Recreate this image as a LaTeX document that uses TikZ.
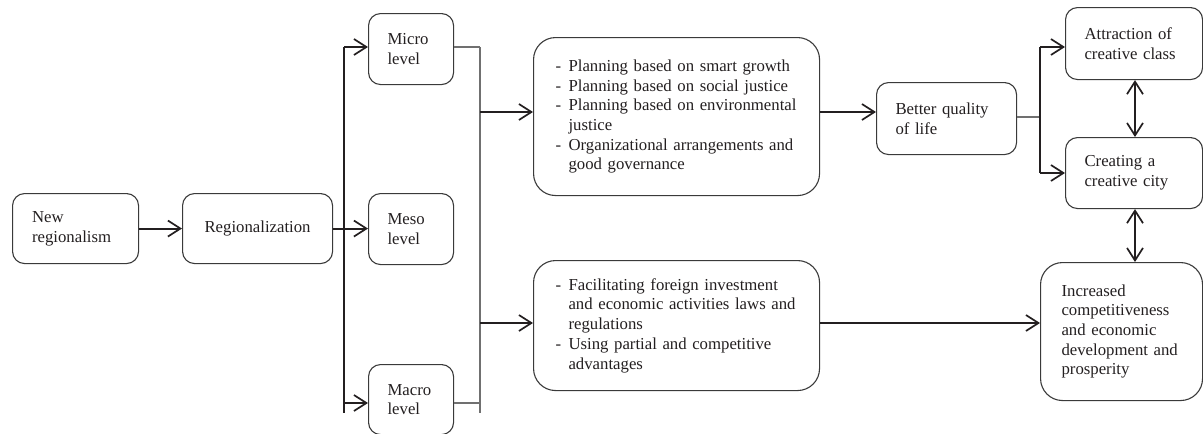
\documentclass[tikz,border=0pt]{standalone}
\usepackage{fontspec}
\setmainfont{Liberation Serif}
\usetikzlibrary{arrows.meta}
\definecolor{ink}{HTML}{231F20}
\definecolor{edge}{HTML}{3A3A3A}
\definecolor{bus}{HTML}{707070}
\newcommand{\dsh}{\makebox[13pt][l]{-}}
\newcommand{\ind}{\hspace*{13pt}}
\tikzset{
  box/.style={draw=edge, line width=1.1pt, rounded corners=12pt, anchor=north west,
    inner ysep=0pt, align=left, text=ink, font=\fontsize{16.75}{19.7}\selectfont},
  bigbox/.style={box, rounded corners=22pt},
  arr/.style={draw=ink, line width=2pt, -{Straight Barb[length=12.5pt,width=16pt,line width=1.7pt]}},
  darr/.style={draw=ink, line width=2pt, {Straight Barb[length=12.5pt,width=16pt,line width=1.7pt]}-{Straight Barb[length=12.5pt,width=16pt,line width=1.7pt]}},
  thk/.style={draw=ink, line width=2pt},
  thin/.style={draw=bus, line width=1.2pt},
}
\begin{document}
\begin{tikzpicture}[x=1pt,y=-1pt]
\useasboundingbox (0,0) rectangle (1203,434);
% boxes
\node[box, text width=87pt, inner xsep=19.5pt, minimum height=70pt] (nr) at (12,193) {New\\regionalism};
\node[box, text width=110pt, inner xsep=20pt, minimum height=70pt, align=center] (reg) at (182,193) {Regionalization};
\node[box, text width=47pt, inner xsep=19pt, minimum height=71pt] (micro) at (368,13) {Micro\\level};
\node[box, text width=47pt, inner xsep=19pt, minimum height=71pt] (meso) at (368,193) {Meso\\level};
\node[box, text width=47pt, inner xsep=19pt, minimum height=70pt] (macro) at (368,364) {Macro\\level};
\node[bigbox, text width=242pt, inner xsep=22pt, minimum height=158pt] (plan) at (533,37)
  {\dsh Planning based on smart growth\\
   \dsh Planning based on social justice\\
   \dsh Planning based on environmental\\
   \ind justice\\
   \dsh Organizational arrangements and\\
   \ind good governance};
\node[bigbox, text width=242pt, inner xsep=22pt, minimum height=130pt] (fac) at (533,260)
  {\dsh Facilitating foreign investment\\
   \ind and economic activities laws and\\
   \ind regulations\\
   \dsh Using partial and competitive\\
   \ind advantages};
\node[box, text width=102pt, inner xsep=19pt, minimum height=72pt] (better) at (876,82) {Better quality\\of life};
\node[box, text width=99pt, inner xsep=19pt, minimum height=72pt] (attr) at (1065,7) {Attraction of\\creative class};
\node[box, text width=99pt, inner xsep=19pt, minimum height=71pt] (city) at (1065,137) {Creating a\\creative city};
\node[bigbox, text width=120pt, inner xsep=21pt, minimum height=138pt] (inc) at (1040,262)
  {Increased\\competitiveness\\and economic\\development and\\prosperity};
% left bus
\coordinate (lbt) at (344,47);
\coordinate (lbb) at (344,413);
\coordinate (lbm) at (344,403);
\draw[thk] (lbt) -- (lbb);
\draw[arr] (nr.east) -- (reg.west |- nr.east);
\draw[arr] (reg.east) -- (meso.west |- reg.east);
\draw[arr] (lbt) -- (lbt -| micro.west);
\draw[arr] (lbm) -- (lbm -| macro.west);
% right bus
\coordinate (rbt) at (480,47);
\coordinate (rbb) at (480,413);
\coordinate (rb1) at (480,112);
\coordinate (rb2) at (480,323);
\coordinate (rbm) at (480,403);
\draw[thin] (rbt) -- (rbb);
\draw[thin] (micro.east |- rbt) -- (rbt);
\draw[thin] (macro.east |- rbm) -- (rbm);
\draw[arr] (rb1) -- (rb1 -| plan.west);
\draw[arr] (rb2) -- (rb2 -| fac.west);
% to better quality and increased
\coordinate (pq) at (819,112);
\draw[arr] (pq -| plan.east) -- (pq -| better.west);
\draw[arr] (rb2 -| fac.east) -- (rb2 -| inc.west);
% quality bus
\coordinate (qbt) at (1040,47);
\coordinate (qbb) at (1040,173);
\coordinate (qbm) at (1040,117);
\draw[thin] (qbm -| better.east) -- (qbm);
\draw[thk] (qbt) -- (qbb);
\draw[arr] (qbt) -- (qbt -| attr.west);
\draw[arr] (qbb) -- (qbb -| city.west);
% double arrows
\coordinate (dx) at (1135,0);
\draw[darr] (dx |- attr.south) -- (dx |- city.north);
\draw[darr] (dx |- city.south) -- (dx |- inc.north);
\end{tikzpicture}
\end{document}
